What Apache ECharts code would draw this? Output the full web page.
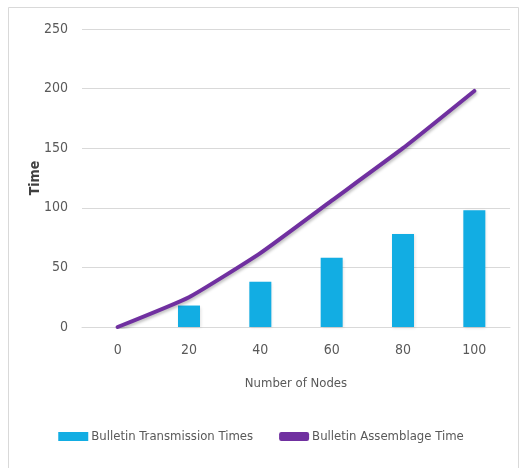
<!DOCTYPE html>
<html><head><meta charset="utf-8">
<script src="https://cdn.jsdelivr.net/npm/echarts@6/dist/echarts.min.js"></script>
<style>html,body{margin:0;padding:0;background:#fff}#c{width:522px;height:468px}</style>
</head><body><div id="c"></div>
<script>
const categories = ['0','20','40','60','80','100'];
const transmissionTimes = [0, 18, 38, 58, 78, 98];
const assemblageTime = [0, 25, 62, 106, 150, 198];
const yTicks = [0, 50, 100, 150, 200, 250];

const FONT = '"DejaVu Sans Condensed", "Liberation Sans Narrow", sans-serif';
const chart = echarts.init(document.getElementById('c'));
chart.setOption({
  animation: false,
  backgroundColor: '#fff',
  graphic: [{
    type: 'rect', left: 6, top: 5, shape: { width: 510, height: 470 },
    style: { fill: 'none', stroke: '#d9d9d9', lineWidth: 1 }, silent: true
  }],
  grid: { left: 82, right: 12, top: 29, bottom: 141, containLabel: false },
  legend: {
    bottom: 20, left: 'center', itemGap: 26, itemWidth: 30, itemHeight: 9,
    textStyle: { fontFamily: FONT, fontSize: 13, color: '#595959', padding: [0, 0, 0, -2] },
    data: [
      { name: 'Bulletin Transmission Times', icon: 'rect' },
      { name: 'Bulletin Assemblage Time', icon: 'roundRect', itemStyle: { color: '#7030A0' } }
    ]
  },
  xAxis: {
    type: 'category', data: categories, boundaryGap: true,
    name: 'Number of Nodes', nameLocation: 'middle', nameGap: 50,
    nameTextStyle: { fontFamily: FONT, fontSize: 13, color: '#595959' },
    axisLine: { show: true, lineStyle: { color: '#d9d9d9', width: 1 } },
    axisTick: { show: false },
    axisLabel: { fontFamily: FONT, fontSize: 14, color: '#595959', margin: 16 }
  },
  yAxis: {
    type: 'value', min: 0, max: 250, interval: 50,
    name: 'Time', nameLocation: 'middle', nameGap: 40, nameRotate: 90, nameMoveOverlap: false,
    nameTextStyle: { fontFamily: FONT, fontSize: 14, color: '#404040', fontWeight: 'bold' },
    axisLine: { show: false }, axisTick: { show: false },
    axisLabel: { fontFamily: FONT, fontSize: 14, color: '#595959', margin: 14,
      formatter: v => yTicks.includes(v) ? String(v) : '' },
    splitLine: { lineStyle: { color: '#d9d9d9', width: 1 } }
  },
  series: [
    {
      name: 'Bulletin Transmission Times', type: 'bar', data: transmissionTimes,
      barWidth: 22,
      itemStyle: { color: '#12ADE3', shadowColor: 'rgba(0,0,0,0.12)', shadowBlur: 3, shadowOffsetX: 1, shadowOffsetY: 1 }
    },
    {
      name: 'Bulletin Assemblage Time', type: 'line', data: assemblageTime,
      showSymbol: false, symbol: 'none', smooth: 0.15,
      lineStyle: { color: '#7030A0', width: 4, cap: 'round',
        shadowColor: 'rgba(0,0,0,0.25)', shadowBlur: 3, shadowOffsetX: 1, shadowOffsetY: 2 },
      itemStyle: { color: '#7030A0' }
    }
  ]
});
</script></body></html>
